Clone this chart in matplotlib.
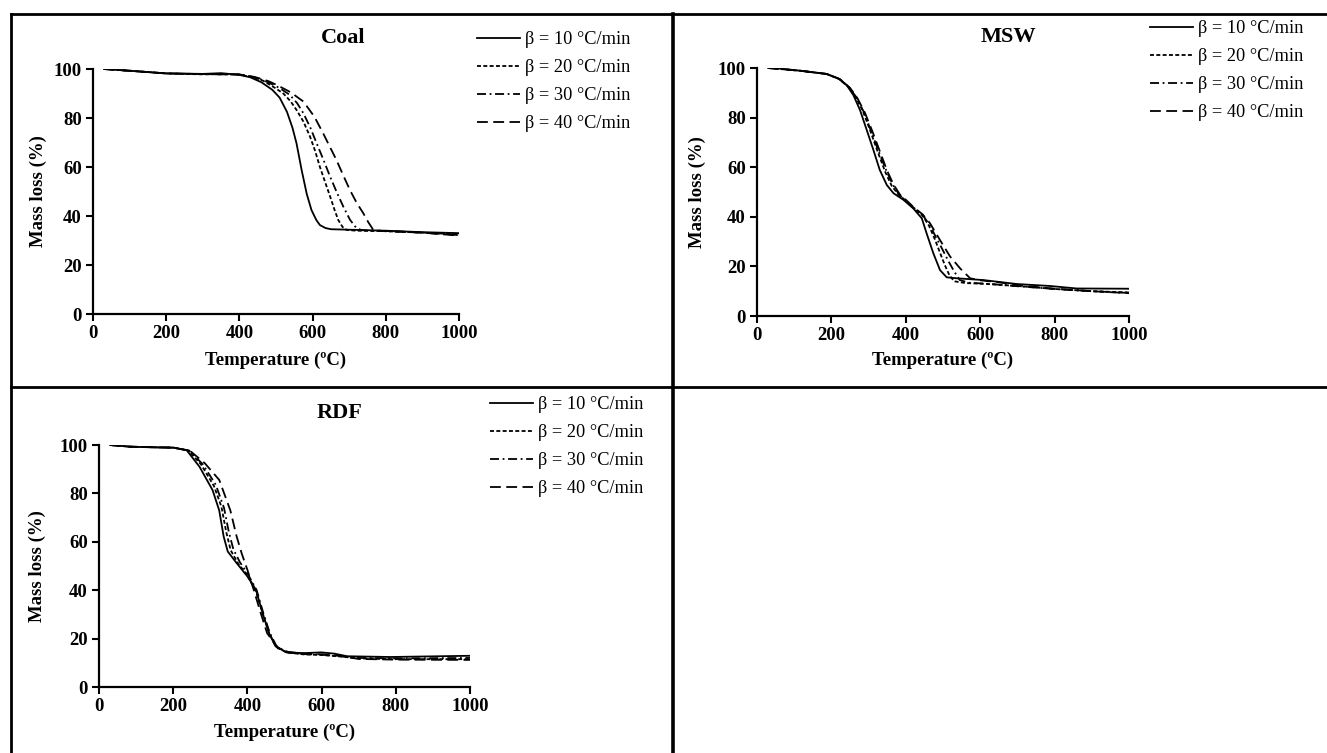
import matplotlib
matplotlib.use('Agg')
import matplotlib.pyplot as plt
from matplotlib.lines import Line2D

plt.rcParams['font.family'] = ['Liberation Serif', 'DejaVu Serif']

rates = [10, 20, 30, 40]
legend_labels = ['\u03b2 = %d \u00b0C/min' % r for r in rates]
x_ticks = [0, 200, 400, 600, 800, 1000]
y_ticks = [0, 20, 40, 60, 80, 100]

# Coal, mass (%) vs temperature (C) at each heating rate
coal_t10 = [30, 100, 200, 300, 350, 400, 430, 460, 490, 510, 530, 545, 556, 570, 584, 597, 610, 620, 635, 650, 700, 800, 900, 1000]
coal_m10 = [100, 99.3, 98.2, 98.0, 98.3, 97.6, 96.6, 94.6, 91.5, 88.3, 82.5, 76, 69.7, 58.8, 49, 42.4, 38.4, 36.3, 35.1, 34.6, 34.4, 34.0, 33.4, 33.0]
coal_t20 = [30, 100, 200, 300, 350, 400, 440, 465, 495, 520, 540, 556, 575, 593, 607, 620, 635, 648, 660, 670, 682, 693, 720, 800, 900, 1000]
coal_m20 = [100, 99.3, 98.2, 97.8, 98.0, 97.7, 96.5, 95.2, 92.5, 90, 86.8, 83.3, 78.5, 72.4, 66.5, 60, 53.5, 47.9, 42.5, 38.4, 35.5, 34.3, 34.0, 33.8, 33.2, 32.5]
coal_t30 = [30, 200, 350, 400, 440, 480, 510, 538, 558, 575, 594, 611, 630, 648, 666, 684, 702, 720, 735, 800, 900, 1000]
coal_m30 = [100, 98.2, 97.8, 97.8, 96.8, 94.5, 92.2, 89.4, 86, 81.9, 76, 69.7, 62.8, 56, 49.7, 43.8, 38.5, 35, 34.2, 33.8, 33.2, 32.2]
coal_t40 = [30, 200, 350, 400, 450, 480, 502, 540, 575, 605, 629, 648, 665, 684, 702, 720, 739, 752, 766, 790, 850, 900, 1000]
coal_m40 = [100, 98.2, 97.8, 97.8, 96.4, 95, 93.5, 90.5, 86.7, 80.5, 73.7, 68, 62.9, 56.5, 50.6, 45.5, 41, 37.5, 34.3, 33.9, 33.6, 33.2, 32.0]

# MSW
msw_t10 = [30, 60, 116, 187, 219, 241, 259, 277, 295, 313, 330, 349, 367, 394, 420, 443, 456, 474, 492, 510, 537, 608, 698, 788, 859, 1000]
msw_m10 = [100, 99.8, 98.9, 97.6, 95.8, 93.1, 89.1, 83, 75, 66.9, 58.9, 52.8, 49.5, 46.8, 43.4, 39.4, 33.3, 25.3, 18.5, 15.6, 15.2, 14.5, 12.9, 12.1, 11.1, 11.0]
msw_t20 = [30, 116, 187, 220, 245, 265, 285, 305, 325, 345, 362, 380, 400, 420, 445, 462, 478, 492, 505, 517, 530, 560, 620, 700, 800, 900, 1000]
msw_m20 = [100, 98.9, 97.6, 95.6, 92.5, 88.5, 82.5, 74.5, 66, 58, 52.5, 49, 46.5, 43.6, 40.5, 36.5, 31, 25.5, 20.5, 16.5, 14, 13.3, 12.9, 12.1, 10.9, 10.0, 9.5]
msw_t30 = [30, 116, 187, 222, 247, 268, 288, 308, 328, 348, 365, 382, 400, 420, 445, 465, 482, 498, 515, 530, 545, 570, 620, 700, 800, 900, 1000]
msw_m30 = [100, 98.9, 97.6, 95.5, 92.3, 88, 82, 74, 66, 58.5, 53, 49, 46.5, 43.8, 40.8, 36.5, 31.5, 27, 22, 18, 14.5, 13.4, 13, 12, 10.9, 10.0, 9.3]
msw_t40 = [30, 116, 187, 224, 250, 270, 290, 310, 330, 350, 367, 384, 402, 420, 445, 465, 492, 519, 546, 573, 600, 650, 700, 800, 900, 1000]
msw_m40 = [100, 98.9, 97.6, 95.4, 92, 87.8, 82, 74.5, 66.5, 58.5, 53, 49, 46.6, 44, 41, 37.4, 30.6, 24, 19.2, 15.2, 14.4, 13.6, 12.4, 11, 10.0, 9.2]

# RDF
rdf_t10 = [30, 84, 150, 201, 236, 271, 306, 324, 336, 347, 371, 400, 423, 441, 458, 476, 505, 552, 599, 634, 669, 786, 1000]
rdf_m10 = [100, 99.3, 99.0, 98.9, 97.9, 91, 81.4, 73, 62.2, 56, 51.2, 45.7, 40.2, 30.5, 22.3, 16.8, 14.3, 14.0, 14.3, 13.8, 12.7, 12.4, 12.9]
rdf_t20 = [30, 84, 201, 240, 275, 310, 330, 343, 355, 375, 400, 423, 441, 458, 476, 505, 550, 600, 650, 700, 800, 1000]
rdf_m20 = [100, 99.3, 98.9, 97.8, 92, 83, 74.5, 64, 56.5, 51, 46.2, 39.5, 30.5, 22.5, 17, 14.3, 13.5, 13.2, 12.6, 11.8, 11.5, 11.5]
rdf_t30 = [30, 84, 201, 243, 280, 315, 337, 350, 362, 380, 400, 425, 443, 460, 478, 505, 550, 600, 650, 700, 800, 1000]
rdf_m30 = [100, 99.3, 98.9, 97.7, 92, 83.5, 74, 64, 57, 51.5, 47, 40, 30.5, 22.5, 17, 14.4, 13.6, 13.4, 12.8, 12, 11.8, 12.0]
rdf_t40 = [30, 84, 201, 246, 285, 324, 354, 371, 385, 400, 417, 436, 453, 482, 510, 550, 600, 650, 700, 800, 1000]
rdf_m40 = [100, 99.3, 98.9, 97.5, 92.5, 85.6, 73, 62.2, 55, 48.4, 40.2, 30.5, 22.3, 16, 14.5, 13.8, 13.5, 12.8, 11.6, 11.3, 11.2]

line_styles = ['-', (0, (2.2, 1.3)), (0, (5, 2, 1, 2)), (0, (6, 3))]

W, H = 1327, 753


def fx(px):
    return px / W


def fy(py):
    return 1 - py / H


def draw_panel(fig, rect, curves, title, title_xy, legend_xy, xlab_y, ylab_x):
    """ One TGA panel: four heating rates, title and a frameless legend. """
    ax = fig.add_axes(rect)
    handles = []
    for (t, m), ls, lab in zip(curves, line_styles, legend_labels):
        h, = ax.plot(t, m, color='black', linestyle=ls, linewidth=1.3, label=lab)
        handles.append(h)
    ax.set_xlim(0, 1000)
    ax.set_ylim(0, 100)
    ax.set_xticks(x_ticks)
    ax.set_yticks(y_ticks)
    for s in ['top', 'right']:
        ax.spines[s].set_visible(False)
    for s in ['left', 'bottom']:
        ax.spines[s].set_linewidth(1.6)
    ax.tick_params(direction='out', length=5, width=1.5, labelsize=13.5, pad=3)
    for lab in ax.get_xticklabels() + ax.get_yticklabels():
        lab.set_fontweight('bold')
    ax.set_xlabel('Temperature (\u00baC)', fontsize=13.5, fontweight='bold')
    ax.set_ylabel('Mass loss (%)', fontsize=13.5, fontweight='bold')
    ax.xaxis.set_label_coords(0.5, xlab_y)
    ax.yaxis.set_label_coords(ylab_x, 0.5)
    fig.text(fx(title_xy[0]), fy(title_xy[1]), title, fontsize=16, fontweight='bold',
             ha='center', va='center')
    fig.legend(handles=handles, loc='upper left',
               bbox_to_anchor=(fx(legend_xy[0]), fy(legend_xy[1])),
               bbox_transform=fig.transFigure, frameon=False, fontsize=13.2,
               handlelength=2.35, handletextpad=0.27, labelspacing=0.6,
               borderpad=0, borderaxespad=0)
    return ax


fig = plt.figure(figsize=(W / 100, H / 100), dpi=100)

draw_panel(fig, [fx(93), fy(314), fx(459 - 93), (314 - 69) / H],
           [(coal_t10, coal_m10), (coal_t20, coal_m20), (coal_t30, coal_m30), (coal_t40, coal_m40)],
           'Coal', (343, 38), (477, 31), -0.155, -0.127)
draw_panel(fig, [fx(757), fy(316), fx(1129 - 757), (316 - 68) / H],
           [(msw_t10, msw_m10), (msw_t20, msw_m20), (msw_t30, msw_m30), (msw_t40, msw_m40)],
           'MSW', (1008, 37), (1150, 20), -0.145, -0.137)
draw_panel(fig, [fx(99), fy(687), fx(470 - 99), (687 - 445) / H],
           [(rdf_t10, rdf_m10), (rdf_t20, rdf_m20), (rdf_t30, rdf_m30), (rdf_t40, rdf_m40)],
           'RDF', (340, 413), (490, 396), -0.153, -0.142)

# panel frames
frame = dict(color='black', linewidth=2.0, transform=fig.transFigure)
fig.add_artist(Line2D([fx(11), fx(1327)], [fy(14), fy(14)], **frame))
fig.add_artist(Line2D([fx(11), fx(1327)], [fy(387), fy(387)], **frame))
fig.add_artist(Line2D([fx(11), fx(11)], [fy(14), fy(753)], **frame))
fig.add_artist(Line2D([fx(673), fx(673)], [fy(14), fy(753)], linewidth=2.6,
                      color='black', transform=fig.transFigure))

fig.savefig('out.png', dpi=100)
